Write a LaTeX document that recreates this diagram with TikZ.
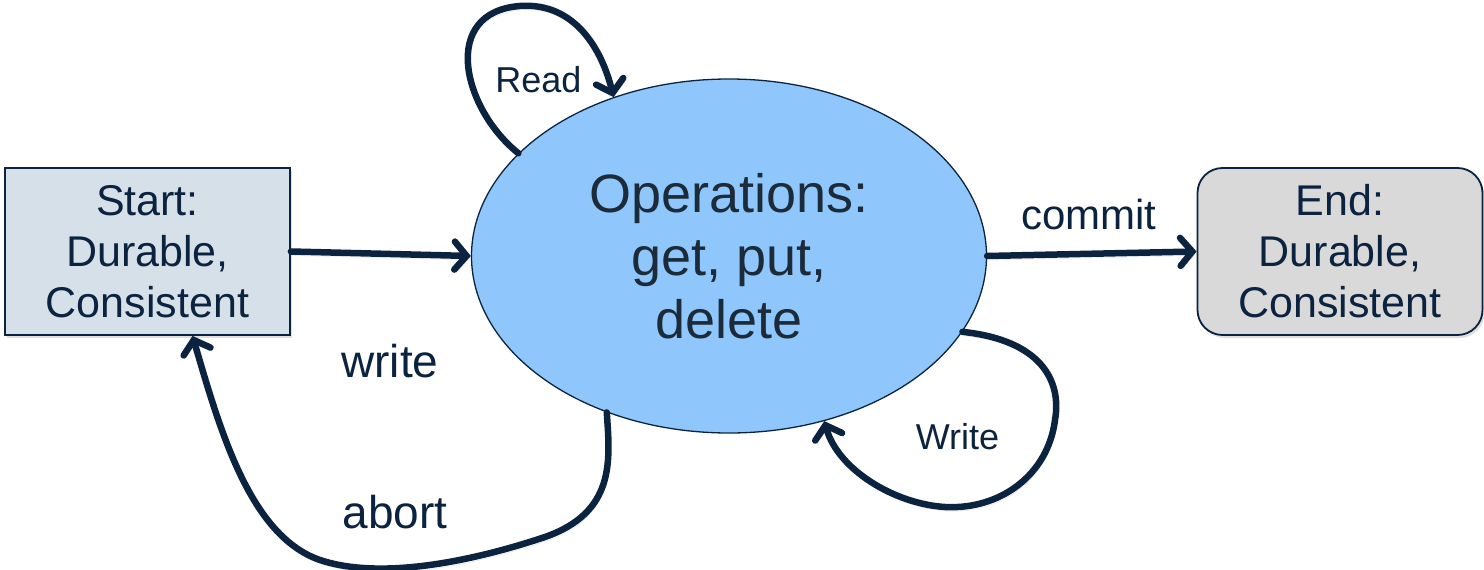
\documentclass[tikz,border=0pt]{standalone}
\usepackage{fontspec}
\setmainfont{Liberation Sans}
\usetikzlibrary{arrows.meta,shadows,shapes.geometric}
\definecolor{navy}{HTML}{0C2340}
\definecolor{slate}{HTML}{1B2B3A}
\definecolor{startfill}{HTML}{D6E0E8}
\definecolor{endfill}{HTML}{D9D9D9}
\definecolor{opsfill}{HTML}{8FC7FD}
\tikzset{
  box/.style={draw=navy, line width=1.8pt, minimum width=285pt, minimum height=167pt,
    inner sep=0pt, align=center, text=navy, font=\fontsize{43}{51}\selectfont,
    drop shadow={shadow xshift=2pt, shadow yshift=-3pt, opacity=0.25}},
  opsnode/.style={ellipse, draw=navy, line width=1.3pt, fill=opsfill, minimum width=515pt,
    minimum height=354pt, inner sep=0pt, align=center, text=slate,
    font=\fontsize{54}{63}\selectfont},
  flow/.style={draw=navy, line width=6.5pt, line cap=round,
    -{Straight Barb[length=12pt, width=28pt, line cap=round]},
    preaction={draw=black, draw opacity=0.12, transform canvas={shift={(1.5pt,-4pt)}}}},
  lbl/.style={text=navy, anchor=base, inner sep=0pt}
}
\begin{document}
\begin{tikzpicture}[x=1pt, y=-1pt]
\useasboundingbox (0,0) rectangle (1484,570);

% states
\node[box, fill=startfill] (start) at (147.5,251.5) {Start:\\Durable,\\Consistent};
\node[box, fill=endfill, rounded corners=25pt] (end) at (1340,251.5) {End:\\Durable,\\Consistent};
\node[opsnode] (ops) at (729,256) {Operations:\\get, put,\\delete};

% transitions
\draw[flow] (start.east) -- (ops.west);
\draw[flow] (ops.east) -- (end.west);
\node[lbl, font=\fontsize{42}{50}\selectfont] (commit) at (1089,229) {commit};

% read loop on top
\draw[flow] (ops.154) .. controls (462,108) and (440,12) .. (520,6)
  .. controls (575,2) and (602,50) .. (ops.126);
\node[lbl, font=\fontsize{36}{43}\selectfont] (read) at (538.5,92) {Read};

% write loop on the right
\draw[flow] (ops.342) .. controls (1040,340) and (1062,380) .. (1055,420)
  .. controls (1048,475) and (1000,510) .. (945,507)
  .. controls (895,504) and (838,470) .. (ops.300);
\node[lbl, font=\fontsize{36}{43}\selectfont] (writeR) at (957.5,449) {Write};

% abort back to the start
\draw[flow] (ops.232) .. controls (610,460) and (616,512) .. (545,537)
  .. controls (470,562) and (380,580) .. (320,560)
  .. controls (250,536) and (220,430) .. ([xshift=45pt]start.south);
\node[lbl, font=\fontsize{46}{55}\selectfont] (write) at (390,377) {write};
\node[lbl, font=\fontsize{46}{55}\selectfont] (abort) at (395,528) {abort};
\end{tikzpicture}
\end{document}
